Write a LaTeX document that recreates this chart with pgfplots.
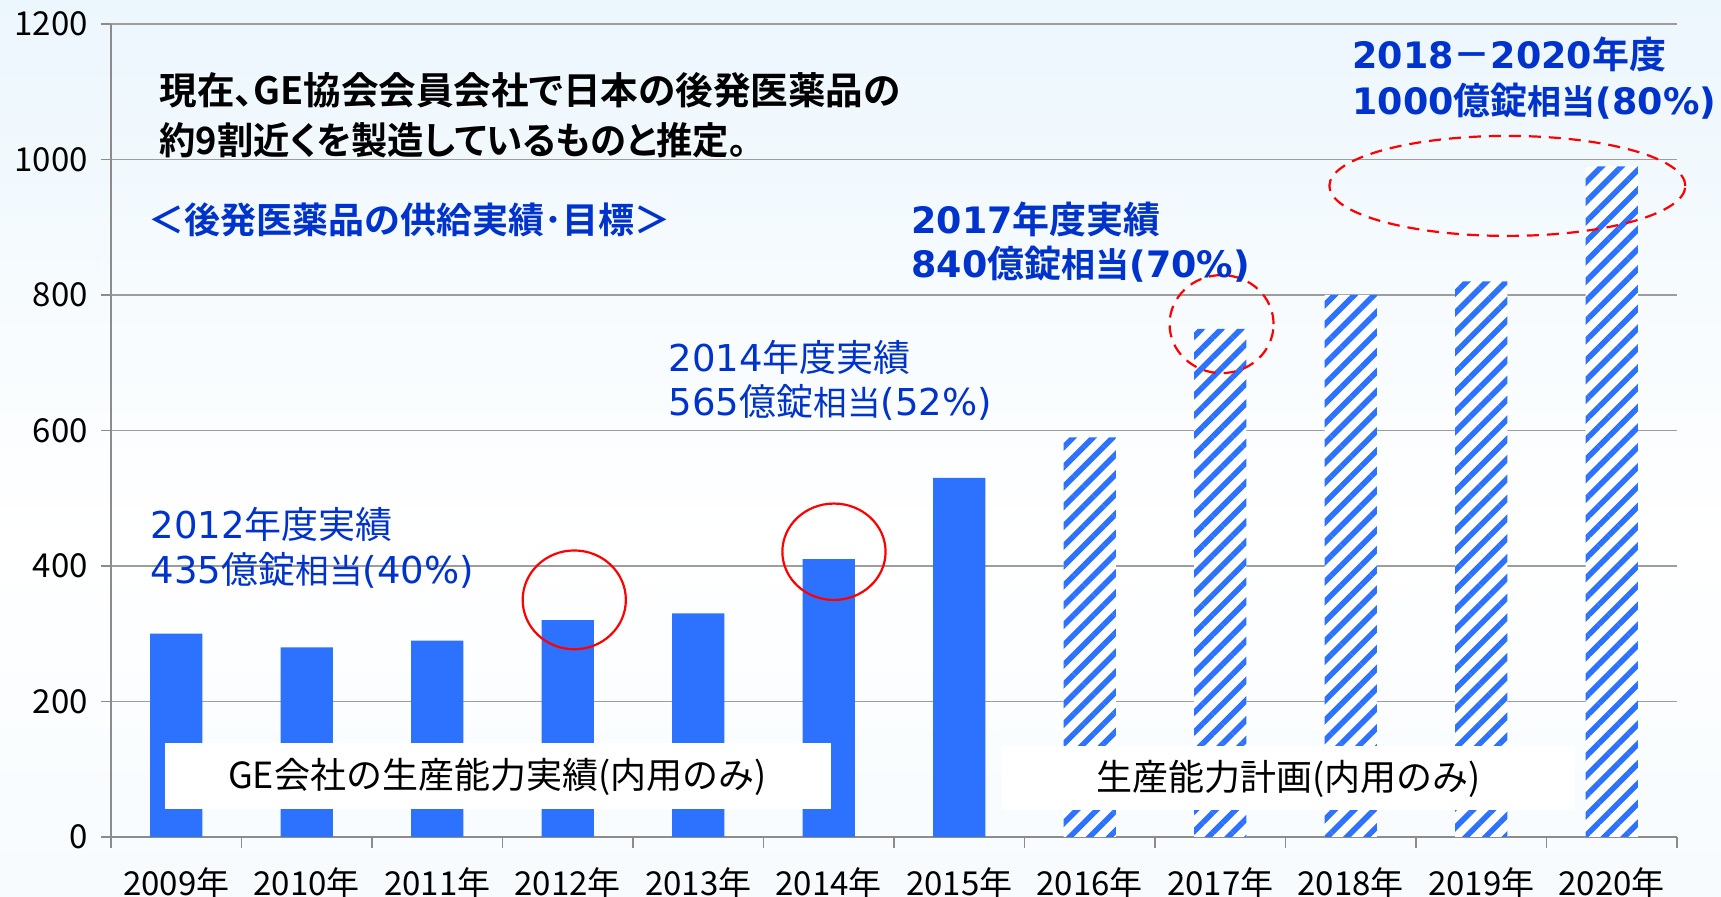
\documentclass[border=0pt]{standalone}
\usepackage{fontspec}
\setmainfont{Noto Sans CJK JP}[BoldFont={Noto Sans CJK JP Bold}]
\newfontfamily\dv{DejaVu Sans}
\newfontfamily\jpp{Noto Sans CJK JP}[RawFeature=+palt, BoldFont={Noto Sans CJK JP Bold}]
\usepackage{pgfplots}
\pgfplotsset{compat=1.18}
\usetikzlibrary{patterns.meta}
\definecolor{barblue}{RGB}{45,114,255}
\definecolor{txtblue}{RGB}{0,51,204}
\definecolor{axgray}{RGB}{140,140,140}
\definecolor{bgtop}{RGB}{220,239,251}
\definecolor{bgbot}{RGB}{236,246,253}
\pgfdeclareverticalshading{bgshade}{100bp}{color(0bp)=(bgbot); color(45bp)=(white); color(100bp)=(bgtop)}
\newcommand\fs[1]{\fontsize{#1}{#1}\selectfont}
\newcommand\lat[2]{{\dv\fs{#1}#2}}
\begin{document}
\begin{tikzpicture}
\useasboundingbox (0,0) rectangle (860.5pt,448.5pt);
\shade[shading=bgshade] (0,0) rectangle (860.5pt,448.5pt);
\begin{axis}[
 at={(55.5pt,30pt)}, anchor=south west, scale only axis,
 width=783pt, height=406.5pt,
 xmin=-0.5, xmax=11.5, ymin=0, ymax=1200,
 ytick={0,200,...,1200},
 xtick={0,...,11},
 xticklabels={2009年,2010年,2011年,2012年,2013年,2014年,2015年,2016年,2017年,2018年,2019年,2020年},
 minor xtick={-0.5,0.5,...,11.5},
 axis x line*=bottom, axis y line*=left,
 axis line style={draw=axgray, line width=0.9pt},
 tick align=outside,
 major x tick style={draw=none},
 minor x tick style={draw=axgray, line width=0.9pt},
 minor tick length=5.5pt,
 major tick length=5pt,
 y tick style={draw=axgray, line width=0.9pt},
 ymajorgrids, grid style={draw=axgray!85, line width=0.8pt},
 ticklabel style={font=\fs{16.5}, text=black},
 /pgf/number format/assume math mode=true,
 /pgf/number format/1000 sep={},
 yticklabel style={xshift=-3pt},
 xticklabel style={yshift=-7pt},
 ybar, bar width=0.4, bar shift=0pt,
 clip=false,
]
\addplot[fill=barblue, draw=none] coordinates {(0,300)(1,280)(2,290)(3,320)(4,330)(5,410)(6,530)};
\addplot[fill=white, draw=none, postaction={pattern={Lines[angle=45,distance=7pt,line width=2.8pt]}, pattern color=barblue}] coordinates {(7,590)(8,750)(9,800)(10,820)(11,990)};
\draw[red, line width=1.1pt] (axis cs:3.05,350) ellipse [x radius=25.8pt, y radius=24.7pt];
\draw[red, line width=1.1pt] (axis cs:5.04,421) ellipse [x radius=25.8pt, y radius=24.1pt];
\draw[red, line width=1.1pt, dash pattern=on 6pt off 4pt] (axis cs:8.01,757) ellipse [x radius=26pt, y radius=24.5pt];
\draw[red, line width=1.1pt, dash pattern=on 6pt off 4pt] (axis cs:10.20,961) ellipse [x radius=89pt, y radius=25pt];
\end{axis}
\node[anchor=west, inner sep=0, font=\jpp\bfseries\fs{18.8}] at (79.5pt,403.5pt) {現在、GE協会会員会社で日本の後発医薬品の};
\node[anchor=west, inner sep=0, font=\jpp\bfseries\fs{18.8}, xscale=0.965] at (79.5pt,378.3pt) {約9割近くを製造しているものと推定。};
\node[anchor=west, inner sep=0, font=\bfseries\fs{18}, text=txtblue] at (74pt,338.7pt) {＜後発医薬品の供給実績･目標＞};
\node[anchor=west, inner sep=0, font=\fs{18.5}, text=txtblue] at (75.2pt,186.2pt) {\lat{18.5}{2012}年度実績};
\node[anchor=west, inner sep=0, font=\fs{18.5}, text=txtblue] at (75.2pt,163.1pt) {\lat{18.5}{435}億錠{\fs{16.8}相当}\lat{18.5}{(40\%)}};
\node[anchor=west, inner sep=0, font=\fs{18.5}, text=txtblue] at (334.2pt,269.6pt) {\lat{18.5}{2014}年度実績};
\node[anchor=west, inner sep=0, font=\fs{18.5}, text=txtblue] at (334.2pt,247.1pt) {\lat{18.5}{565}億錠{\fs{16.8}相当}\lat{18.5}{(52\%)}};
\node[anchor=west, inner sep=0, font=\bfseries\fs{18.5}, text=txtblue] at (455.5pt,338.7pt) {\lat{18.2}{2017}年度実績};
\node[anchor=west, inner sep=0, font=\bfseries\fs{18.5}, text=txtblue] at (455.5pt,316.2pt) {\lat{18.2}{840}億錠{\fs{17}相当}\lat{18.2}{(70\%)}};
\node[anchor=west, inner sep=0, font=\bfseries\fs{18.5}, text=txtblue] at (676pt,421.1pt) {\lat{18.2}{2018}－\lat{18.2}{2020}年度};
\node[anchor=west, inner sep=0, font=\bfseries\fs{18.5}, text=txtblue] at (676pt,398pt) {\lat{18.2}{1000}億錠{\fs{17}相当}\lat{18.2}{(80\%)}};
\fill[white] (82.3pt,44pt) rectangle (415.5pt,77pt);
\node[font=\fs{18}] at (248.6pt,60pt) {GE会社の生産能力実績(内用のみ)};
\fill[white] (501pt,43.5pt) rectangle (787.6pt,75.5pt);
\node[font=\fs{18}] at (644.3pt,59pt) {生産能力計画(内用のみ)};
\end{tikzpicture}
\end{document}
